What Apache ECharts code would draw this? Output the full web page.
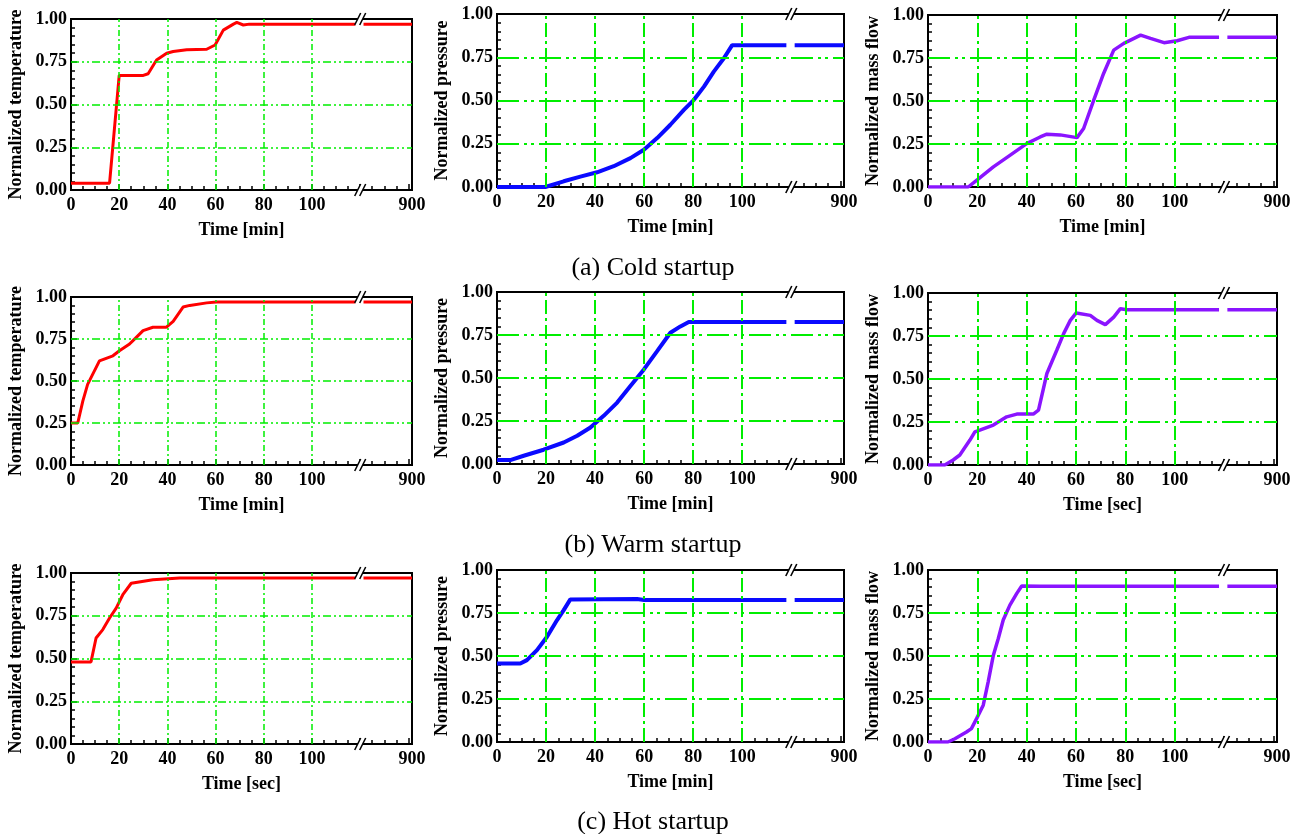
<!DOCTYPE html>
<html>
<head>
<meta charset="utf-8">
<script src="https://cdn.jsdelivr.net/npm/echarts@6/dist/echarts.min.js"></script>
<style>
  html, body { margin: 0; padding: 0; background: #fff; }
  #chart { width: 1306px; height: 834px; }
</style>
</head>
<body>
<div id="chart"></div>
<script>
// time axis: linear up to the break, then one jump to 900
var BREAK = 120
var AXIS_END = 141.5
var T_END = 900
var xTicks = [0, 20, 40, 60, 80, 100, 900]
var xGrid = [20, 40, 60, 80, 100]
var yGrid = [0.25, 0.5, 0.75]

// [time, value], null = gap in the line at the break
var coldTemp = [[0, 0.04], [16, 0.04], [20, 0.67], [30, 0.67], [32, 0.68], [35.5, 0.76], [39.7, 0.80], [42.4, 0.81], [48, 0.82], [56.3, 0.823], [59.8, 0.848], [63.2, 0.935], [67.4, 0.97], [68.8, 0.98], [71.5, 0.965], [74, 0.97], [118, 0.97], null, [170, 0.97], [900, 0.97]]
var coldPres = [[0, 0], [19.7, 0], [27.2, 0.033], [34, 0.06], [40.8, 0.085], [47.6, 0.12], [54.4, 0.167], [59.9, 0.215], [65.3, 0.283], [70.7, 0.36], [76.2, 0.446], [80.3, 0.504], [84.4, 0.58], [88.4, 0.667], [92.5, 0.744], [95.9, 0.82], [118, 0.82], null, [170, 0.82], [900, 0.82]]
var coldFlow = [[0, 0], [16.3, 0], [19.7, 0.039], [26.5, 0.117], [33.2, 0.184], [40, 0.252], [45.5, 0.291], [48.2, 0.307], [53.6, 0.303], [60.4, 0.287], [63.1, 0.34], [67.2, 0.505], [71.2, 0.66], [75.3, 0.796], [79.4, 0.835], [86.2, 0.883], [90.2, 0.864], [95.7, 0.839], [101, 0.85], [105.8, 0.87], [118, 0.87], null, [170, 0.87], [900, 0.87]]

var warmTemp = [[0, 0.25], [2.8, 0.25], [4.9, 0.38], [6.9, 0.48], [11.8, 0.62], [17.4, 0.65], [20.1, 0.68], [24.3, 0.72], [27.1, 0.76], [29.9, 0.80], [34, 0.82], [39.6, 0.82], [42.4, 0.855], [46.5, 0.94], [49.3, 0.95], [56.3, 0.965], [60.4, 0.97], [118, 0.97], null, [170, 0.97], [900, 0.97]]
var warmPres = [[0, 0.023], [5.4, 0.023], [10.9, 0.048], [19, 0.083], [27.2, 0.125], [32.7, 0.164], [38.1, 0.212], [43.5, 0.28], [49, 0.357], [54.4, 0.454], [59.9, 0.55], [65.3, 0.656], [70.7, 0.763], [74.8, 0.80], [78.2, 0.826], [118, 0.826], null, [170, 0.826], [900, 0.826]]
var warmFlow = [[0, 0], [6.8, 0], [10.2, 0.029], [12.9, 0.058], [17, 0.145], [19, 0.193], [21, 0.203], [26.5, 0.232], [31.9, 0.28], [36, 0.296], [42.7, 0.296], [44.8, 0.319], [48.2, 0.532], [52.2, 0.667], [55, 0.764], [57.7, 0.841], [60.1, 0.884], [65.8, 0.87], [68.5, 0.841], [71.9, 0.816], [75.3, 0.86], [78, 0.909], [80.7, 0.903], [118, 0.903], null, [170, 0.903], [900, 0.903]]

var hotTemp = [[0, 0.48], [8.3, 0.48], [10.4, 0.62], [13.2, 0.669], [16, 0.737], [18.75, 0.795], [21.5, 0.873], [25, 0.94], [25.7, 0.951], [34, 0.961], [45.1, 0.971], [118, 0.971], null, [170, 0.971], [900, 0.971]]
var hotPres = [[0, 0.456], [9.5, 0.456], [12.2, 0.476], [16.3, 0.534], [20.4, 0.612], [24.5, 0.709], [27.2, 0.767], [29.9, 0.829], [57.1, 0.832], [60, 0.826], [118, 0.826], null, [170, 0.826], [900, 0.826]]
var hotFlow = [[0, 0], [8.1, 0], [10.9, 0.019], [15.6, 0.058], [17.6, 0.078], [19.7, 0.136], [22.4, 0.214], [24.4, 0.35], [26.5, 0.505], [28.5, 0.602], [30.5, 0.709], [33.2, 0.796], [36, 0.864], [38, 0.907], [45.5, 0.905], [118, 0.905], null, [170, 0.905], [900, 0.905]]

var captions = ['(a) Cold startup', '(b) Warm startup', '(c) Hot startup']

var RED = '#ff0000'
var BLUE = '#0a0aff'
var PURPLE = '#8a14ff'
var GREEN = '#00ee00'
var FONT = 'Liberation Serif'

// box = [left, top, width, height]
var panels = [
  { data: coldTemp, color: RED, w: 3, yName: 'Normalized temperature', xName: 'Time [min]', box: [71, 19, 341, 171], thick: false },
  { data: coldPres, color: BLUE, w: 4, yName: 'Normalized pressure', xName: 'Time [min]', box: [497, 14, 347, 173], thick: true },
  { data: coldFlow, color: PURPLE, w: 3.5, yName: 'Normalized mass flow', xName: 'Time [min]', box: [928, 15, 349, 172], thick: true },
  { data: warmTemp, color: RED, w: 3, yName: 'Normalized temperature', xName: 'Time [min]', box: [71, 297, 341, 168], thick: false },
  { data: warmPres, color: BLUE, w: 4, yName: 'Normalized pressure', xName: 'Time [min]', box: [497, 292, 347, 172], thick: true },
  { data: warmFlow, color: PURPLE, w: 3.5, yName: 'Normalized mass flow', xName: 'Time [sec]', box: [928, 293, 349, 172], thick: true },
  { data: hotTemp, color: RED, w: 3, yName: 'Normalized temperature', xName: 'Time [sec]', box: [71, 573, 341, 171], thick: false },
  { data: hotPres, color: BLUE, w: 4, yName: 'Normalized pressure', xName: 'Time [min]', box: [497, 570, 347, 172], thick: true },
  { data: hotFlow, color: PURPLE, w: 3.5, yName: 'Normalized mass flow', xName: 'Time [sec]', box: [928, 570, 349, 172], thick: true }
]

function toAxis (t) {
  if (t <= BREAK) return t
  return BREAK + (t - BREAK) * (AXIS_END - BREAK) / (T_END - BREAK)
}

function xLabel (v) {
  for (var i = 0; i < xTicks.length; i++) {
    if (Math.abs(toAxis(xTicks[i]) - v) < 0.01) return String(xTicks[i])
  }
  return ''
}

// the "//" marks on the top and bottom frame
function renderBreak (params, api) {
  var p = api.coord([api.value(0), api.value(1)])
  var h = 6
  var s = 3
  var g = 2.5
  return {
    type: 'group',
    children: [
      { type: 'polygon', shape: { points: [[p[0] - g - s, p[1] + h], [p[0] + g - s, p[1] + h], [p[0] + g + s, p[1] - h], [p[0] - g + s, p[1] - h]] }, style: { fill: '#fff' } },
      { type: 'line', shape: { x1: p[0] - g - s, y1: p[1] + h, x2: p[0] - g + s, y2: p[1] - h }, style: { stroke: '#000', lineWidth: 1.6 } },
      { type: 'line', shape: { x1: p[0] + g - s, y1: p[1] + h, x2: p[0] + g + s, y2: p[1] - h }, style: { stroke: '#000', lineWidth: 1.6 } }
    ]
  }
}

var grids = []
var xAxes = []
var yAxes = []
var series = []

panels.forEach(function (pn, i) {
  grids.push({
    left: pn.box[0], top: pn.box[1], width: pn.box[2], height: pn.box[3],
    show: true, borderColor: '#000', borderWidth: 2, backgroundColor: '#fff'
  })
  xAxes.push({
    gridIndex: i, type: 'value', min: 0, max: AXIS_END, interval: 20,
    name: pn.xName, nameLocation: 'middle', nameGap: 31,
    nameTextStyle: { fontFamily: FONT, fontWeight: 'bold', fontSize: 18, color: '#000' },
    axisLine: { lineStyle: { color: '#000', width: 2 } },
    axisTick: { inside: true, length: 6, lineStyle: { color: '#000', width: 1.5 } },
    minorTick: { show: true, splitNumber: 4, length: 4, lineStyle: { color: '#000', width: 1.5 } },
    axisLabel: { formatter: xLabel, margin: 6, fontFamily: FONT, fontWeight: 'bold', fontSize: 18, color: '#000' },
    splitLine: { show: false }
  })
  yAxes.push({
    gridIndex: i, type: 'value', min: 0, max: 1, interval: 0.25,
    name: pn.yName, nameLocation: 'middle', nameGap: 46,
    nameTextStyle: { fontFamily: FONT, fontWeight: 'bold', fontSize: 18, color: '#000' },
    axisLine: { lineStyle: { color: '#000', width: 2 } },
    axisTick: { inside: true, length: 6, lineStyle: { color: '#000', width: 1.5 } },
    minorTick: { show: true, splitNumber: 5, length: 4, lineStyle: { color: '#000', width: 1.5 } },
    axisLabel: { formatter: function (v) { return v.toFixed(2) }, margin: 4, fontFamily: FONT, fontWeight: 'bold', fontSize: 18, color: '#000' },
    splitLine: { show: false }
  })

  var vStyle = pn.thick
    ? { color: GREEN, width: 2, type: [14, 4, 3, 4] }
    : { color: GREEN, width: 1.5, type: [6, 3, 2, 3] }
  var hStyle = pn.thick
    ? { color: GREEN, width: 2, type: [22, 5, 3, 4, 3, 5] }
    : { color: GREEN, width: 1.5, type: [8, 3, 2, 3, 2, 3] }
  var marks = xGrid.map(function (v) { return { xAxis: v, lineStyle: vStyle } })
    .concat(yGrid.map(function (v) { return { yAxis: v, lineStyle: hStyle } }))

  series.push({
    type: 'line', xAxisIndex: i, yAxisIndex: i, data: [], z: 1, silent: true,
    markLine: { silent: true, symbol: ['none', 'none'], label: { show: false }, animation: false, data: marks }
  })
  series.push({
    type: 'line', xAxisIndex: i, yAxisIndex: i, z: 3, showSymbol: false, symbol: 'none',
    lineStyle: { color: pn.color, width: pn.w },
    data: pn.data.map(function (p) { return p === null ? ['-', '-'] : [toAxis(p[0]), p[1]] })
  })
  series.push({
    type: 'custom', xAxisIndex: i, yAxisIndex: i, z: 5, silent: true,
    renderItem: renderBreak,
    data: [[BREAK, 0], [BREAK, 1]]
  })
})

var chart = echarts.init(document.getElementById('chart'))
chart.setOption({
  animation: false,
  backgroundColor: '#fff',
  grid: grids,
  xAxis: xAxes,
  yAxis: yAxes,
  series: series,
  graphic: captions.map(function (c, i) {
    return {
      type: 'text', x: 653, y: [268, 545, 822][i],
      style: { text: c, fontFamily: FONT, fontSize: 26, fill: '#000', align: 'center', verticalAlign: 'middle' }
    }
  })
})
</script>
</body>
</html>
